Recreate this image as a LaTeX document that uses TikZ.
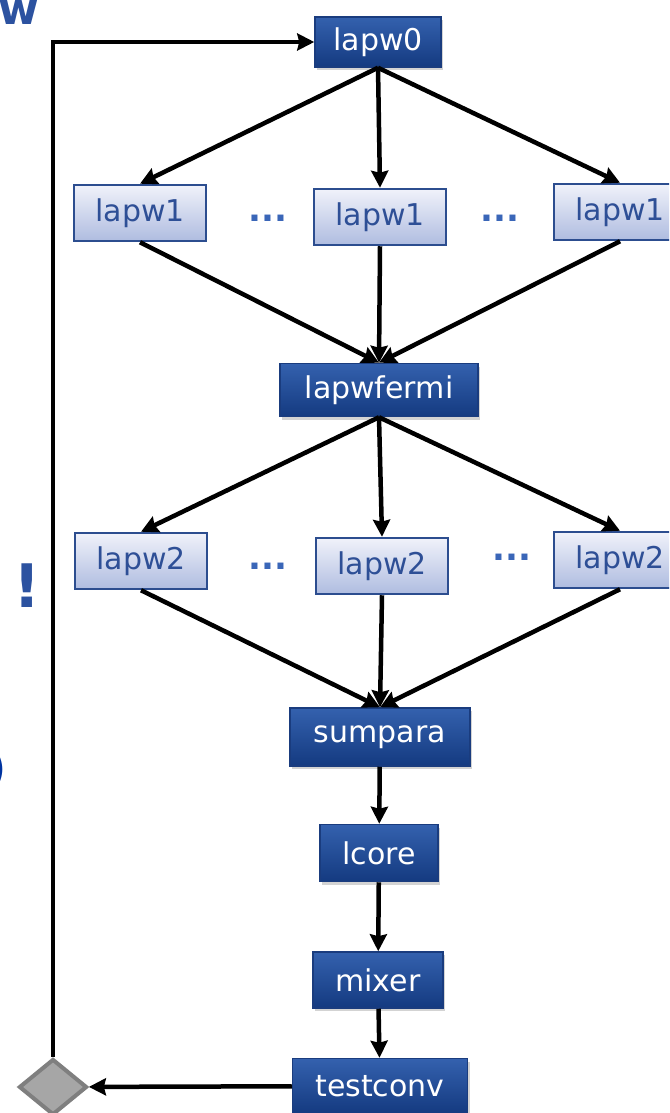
\documentclass[tikz,border=0pt]{standalone}
\usepackage{fontspec}
\setmainfont{DejaVu Sans}
\usetikzlibrary{arrows.meta,shapes.geometric,shadows}
\definecolor{progtop}{HTML}{3461AE}
\definecolor{progbot}{HTML}{143A80}
\definecolor{progedge}{HTML}{1A3C7E}
\definecolor{partop}{HTML}{F0F2FA}
\definecolor{parbot}{HTML}{AFBCE0}
\definecolor{paredge}{HTML}{2C4D8F}
\definecolor{partext}{HTML}{2E4F96}
\definecolor{dotblue}{HTML}{3A66B8}
\definecolor{decfill}{HTML}{A6A6A6}
\definecolor{decedge}{HTML}{7F7F7F}
\definecolor{titleblue}{HTML}{2C52A0}
\definecolor{deepblue}{HTML}{0033A0}

\begin{document}
\begin{tikzpicture}[
  x=1pt, y=-1pt,
  font=\fontsize{30}{36}\selectfont,
  prog/.style={draw=progedge, line width=1.5pt, top color=progtop, bottom color=progbot, text=white,
    minimum height=54pt, inner sep=0pt, drop shadow={opacity=0.35, shadow xshift=2pt, shadow yshift=-3pt}},
  par/.style={draw=paredge, line width=2.5pt, top color=partop, bottom color=parbot, text=partext,
    minimum width=132pt, minimum height=56pt, inner sep=0pt},
  etc/.style={text=dotblue, font=\fontsize{34}{36}\selectfont\bfseries},
  arr/.style={-{Stealth[length=17pt,width=17pt,inset=2pt]}, line width=4.5pt},
  decide/.style={diamond, draw=decedge, fill=decfill, line width=4pt, minimum width=68pt, minimum height=56pt, inner sep=0pt}
]
\useasboundingbox (0,0) rectangle (669,1113);
\clip (0,0) rectangle (669,1113);

% bits of slide text at the left edge
\node[anchor=base west, inner sep=0pt, text=titleblue, font=\fontsize{44}{44}\selectfont\bfseries] (ttl) at (-2,25) {w};
\node[anchor=base, inner sep=0pt, text=titleblue, font=\fontsize{60}{60}\selectfont\bfseries] (bang) at (27,607) {!};
\node[anchor=base east, inner sep=0pt, text=deepblue, font=\fontsize{47}{47}\selectfont] (paren) at (7,784) {)};

% programs of one scf cycle
\node[prog, minimum width=126pt, minimum height=50pt] (lapw0) at (378,42) {lapw0};
\node[par] (l1a) at (140,213) {lapw1};
\node[par] (l1b) at (380,217) {lapw1};
\node[par] (l1c) at (620,212) {lapw1};
\node[etc] (d1a) at (268,218) {...};
\node[etc] (d1b) at (500,218) {...};
\node[prog, minimum width=198pt, minimum height=53pt] (fermi) at (379,390) {lapwfermi};
\node[par] (l2a) at (141,561) {lapw2};
\node[par] (l2b) at (382,566) {lapw2};
\node[par] (l2c) at (620,560) {lapw2};
\node[etc] (d2a) at (268,566) {...};
\node[etc] (d2b) at (512,557) {...};
\node[prog, minimum width=180pt, minimum height=58pt] (sum) at (380,737) {sumpara};
\node[prog, minimum width=118pt, minimum height=57pt] (core) at (379,853) {lcore};
\node[prog, minimum width=130pt, minimum height=56pt] (mix) at (378,980) {mixer};
\node[prog, minimum width=175pt, minimum height=55pt] (conv) at (380,1086) {testconv};
\node[decide] (dec) at (53,1087) {};

\draw[arr] (lapw0.south) -- (l1a.north);
\draw[arr] (lapw0.south) -- (l1b.north);
\draw[arr] (lapw0.south) -- (l1c.north);
\draw[arr] (l1a.south) -- (fermi.north);
\draw[arr] (l1b.south) -- (fermi.north);
\draw[arr] (l1c.south) -- (fermi.north);
\draw[arr] (fermi.south) -- (l2a.north);
\draw[arr] (fermi.south) -- (l2b.north);
\draw[arr] (fermi.south) -- (l2c.north);
\draw[arr] (l2a.south) -- (sum.north);
\draw[arr] (l2b.south) -- (sum.north);
\draw[arr] (l2c.south) -- (sum.north);
\draw[arr] (sum) -- (core);
\draw[arr] (core) -- (mix);
\draw[arr] (mix) -- (conv);
\draw[arr] (conv) -- (dec);
\draw[arr] (dec.north) |- (lapw0.west);
\end{tikzpicture}
\end{document}
